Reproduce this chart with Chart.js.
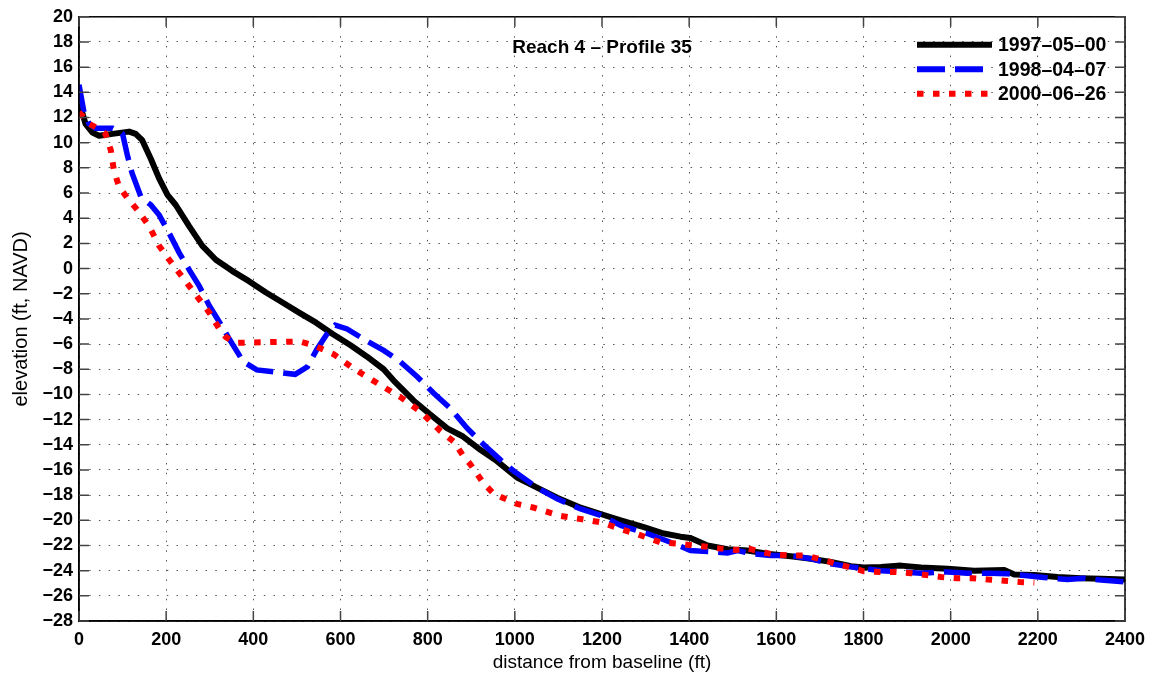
<!DOCTYPE html>
<html>
<head>
<meta charset="utf-8">
<title>Reach 4 – Profile 35</title>
<script src="https://cdn.jsdelivr.net/npm/chart.js@4.4.1/dist/chart.umd.min.js"></script>
<style>
  html, body { margin: 0; padding: 0; background: #fff; }
  #wrap { width: 1154px; height: 679px; position: relative; }
</style>
</head>
<body>
<div id="wrap"><canvas id="profil"></canvas></div>
<script>
// distance from baseline (ft) / elevation (ft, NAVD)
const dist1997 = [0, 4, 15, 31, 46, 77, 115, 130, 145, 165, 184, 203, 222, 253, 283, 314, 352, 390, 429, 467, 505, 544, 582, 623, 661, 699, 722, 768, 806, 845, 879, 921, 959, 1005, 1051, 1097, 1151, 1197, 1243, 1296, 1342, 1380, 1403, 1442, 1488, 1533, 1579, 1633, 1679, 1725, 1771, 1801, 1840, 1886, 1932, 1993, 2054, 2123, 2146, 2192, 2245, 2299, 2345, 2400];
const elev1997 = [13.0, 12.8, 11.5, 10.8, 10.55, 10.7, 10.88, 10.7, 10.2, 8.7, 7.15, 5.85, 5.05, 3.35, 1.8, 0.7, -0.2, -1.0, -1.9, -2.7, -3.5, -4.3, -5.2, -6.1, -7.0, -8.0, -8.9, -10.5, -11.6, -12.7, -13.3, -14.4, -15.3, -16.6, -17.4, -18.2, -19.0, -19.5, -20.0, -20.55, -21.05, -21.3, -21.4, -22.0, -22.3, -22.4, -22.65, -22.85, -23.05, -23.3, -23.65, -23.75, -23.7, -23.6, -23.75, -23.85, -24.0, -23.95, -24.3, -24.35, -24.5, -24.6, -24.65, -24.7];

const dist1998 = [0, 11, 23, 38, 77, 100, 111, 122, 142, 165, 184, 207, 230, 253, 276, 299, 322, 345, 377, 408, 446, 496, 524, 546, 569, 588, 615, 653, 699, 737, 776, 814, 852, 891, 929, 967, 998, 1051, 1097, 1151, 1197, 1243, 1304, 1365, 1403, 1449, 1488, 1511, 1541, 1587, 1633, 1679, 1725, 1771, 1840, 1886, 1932, 1993, 2039, 2092, 2130, 2176, 2214, 2268, 2306, 2345, 2400];
const elev1998 = [14.6, 12.5, 11.5, 11.15, 11.15, 10.7, 9.0, 7.55, 5.7, 5.05, 4.25, 2.8, 1.25, -0.1, -1.4, -2.95, -4.25, -5.6, -7.4, -8.05, -8.2, -8.4, -7.8, -6.4, -5.2, -4.5, -4.8, -5.6, -6.5, -7.4, -8.6, -9.9, -11.1, -12.7, -14.0, -15.2, -16.1, -17.4, -18.3, -19.1, -19.6, -20.4, -21.05, -21.85, -22.4, -22.5, -22.6, -22.4, -22.65, -22.8, -22.8, -23.05, -23.45, -23.7, -24.0, -24.1, -24.2, -24.1, -24.2, -24.2, -24.25, -24.4, -24.55, -24.7, -24.6, -24.75, -24.9];

const dist2000 = [0, 12, 23, 46, 61, 73, 80, 92, 111, 134, 161, 184, 207, 230, 253, 276, 299, 322, 337, 360, 431, 508, 538, 584, 630, 691, 737, 783, 829, 860, 882, 898, 929, 952, 1005, 1044, 1105, 1151, 1197, 1243, 1281, 1334, 1373, 1411, 1442, 1472, 1507, 1537, 1564, 1599, 1633, 1668, 1702, 1732, 1771, 1801, 1840, 1874, 1909, 1943, 1978, 2016, 2050, 2085, 2123, 2158, 2192];
const elev2000 = [12.4, 12.0, 11.5, 11.1, 10.7, 9.4, 7.8, 6.5, 5.6, 4.65, 3.35, 1.8, 0.7, -0.35, -1.4, -2.45, -3.5, -4.8, -5.45, -5.9, -5.85, -5.8, -6.1, -6.8, -7.95, -9.25, -10.2, -11.35, -12.9, -13.75, -14.9, -15.55, -17.1, -17.9, -18.7, -19.0, -19.65, -19.9, -20.15, -20.7, -21.1, -21.75, -21.85, -22.0, -22.1, -22.25, -22.35, -22.25, -22.5, -22.75, -22.8, -22.8, -23.1, -23.4, -23.75, -24.05, -24.1, -24.1, -24.2, -24.35, -24.5, -24.6, -24.6, -24.7, -24.8, -24.9, -24.95];

const seriesLabels = ['1997\u201305\u201300', '1998\u201304\u201307', '2000\u201306\u201326'];
const xTicks = [0, 200, 400, 600, 800, 1000, 1200, 1400, 1600, 1800, 2000, 2200, 2400];
const yTicks = [-28, -26, -24, -22, -20, -18, -16, -14, -12, -10, -8, -6, -4, -2, 0, 2, 4, 6, 8, 10, 12, 14, 16, 18, 20];
const plotTitle = 'Reach 4 \u2013 Profile 35';

(() => {
  const FONT = '"Liberation Sans", Arial, Helvetica, sans-serif';
  const pts = (xs, ys) => xs.map((x, i) => ({ x, y: ys[i] }));
  const minus = v => String(v).replace('-', '\u2212');

  // box round the axes, inward ticks, title and legend inside the plot
  const matlabFrame = {
    id: 'matlabFrame',
    afterDraw(chart) {
      const { ctx, chartArea: a, scales: { x, y } } = chart;
      ctx.save();
      ctx.strokeStyle = '#000';
      ctx.lineWidth = 1.5;
      ctx.setLineDash([]);
      ctx.strokeRect(a.left, a.top, a.right - a.left, a.bottom - a.top);

      ctx.strokeStyle = '#444';
      ctx.beginPath();
      x.ticks.forEach(t => {
        const px = x.getPixelForValue(t.value);
        ctx.moveTo(px, a.bottom); ctx.lineTo(px, a.bottom - 10);
        ctx.moveTo(px, a.top); ctx.lineTo(px, a.top + 10);
      });
      y.ticks.forEach(t => {
        const py = y.getPixelForValue(t.value);
        ctx.moveTo(a.left, py); ctx.lineTo(a.left + 10, py);
        ctx.moveTo(a.right, py); ctx.lineTo(a.right - 10, py);
      });
      ctx.stroke();

      ctx.fillStyle = '#000';
      ctx.font = 'bold 19px ' + FONT;
      ctx.textAlign = 'center';
      ctx.textBaseline = 'middle';
      ctx.fillText(plotTitle, (a.left + a.right) / 2, a.top + 31);

      // legend
      const lx = a.right - 208, ly = a.top + 28;
      chart.data.datasets.forEach((ds, i) => {
        const yy = ly + i * 24.5;
        ctx.strokeStyle = ds.borderColor;
        ctx.lineWidth = 6;
        ctx.setLineDash(ds.borderDash || []);
        ctx.beginPath();
        ctx.moveTo(lx, yy); ctx.lineTo(lx + 75, yy);
        ctx.stroke();
        ctx.setLineDash([]);
        ctx.fillStyle = '#000';
        ctx.font = 'bold 19.5px ' + FONT;
        ctx.textAlign = 'left';
        ctx.fillText(ds.label, lx + 81, yy + 1);
      });
      ctx.restore();
    }
  };

  const tickFont = { family: FONT, size: 18, weight: 'bold' };
  const gridOpts = { color: '#555', lineWidth: 1, drawTicks: false };
  const borderOpts = { display: true, color: '#000', width: 1.5, dash: [1.5, 8.2] };

  new Chart(document.getElementById('profil'), {
    type: 'line',
    data: {
      datasets: [
        {
          label: seriesLabels[0], data: pts(dist1997, elev1997),
          borderColor: '#000000', borderWidth: 6, borderJoinStyle: 'round', order: 3
        },
        {
          label: seriesLabels[1], data: pts(dist1998, elev1998),
          borderColor: '#0000ff', borderWidth: 5.5, borderDash: [28, 10], order: 2
        },
        {
          label: seriesLabels[2], data: pts(dist2000, elev2000),
          borderColor: '#ff0000', borderWidth: 6, borderDash: [6.5, 9.5], order: 1
        }
      ]
    },
    options: {
      responsive: true,
      maintainAspectRatio: false,
      animation: false,
      elements: { point: { radius: 0, hoverRadius: 0 }, line: { tension: 0, fill: false } },
      layout: { padding: { top: 12, right: 29, left: 0, bottom: 0 } },
      plugins: { legend: { display: false }, title: { display: false }, tooltip: { enabled: false } },
      scales: {
        x: {
          type: 'linear', min: 0, max: 2400,
          afterBuildTicks: s => { s.ticks = xTicks.map(v => ({ value: v })); },
          afterFit: s => { s.height = 58; },
          ticks: { font: tickFont, color: '#000', padding: 8, maxRotation: 0, autoSkip: false, callback: minus },
          grid: gridOpts,
          border: borderOpts,
          title: {
            display: true, text: 'distance from baseline (ft)', color: '#000',
            font: { family: FONT, size: 19 }, padding: { top: 0, bottom: 5 }
          }
        },
        y: {
          type: 'linear', min: -28, max: 20,
          afterBuildTicks: s => { s.ticks = yTicks.map(v => ({ value: v })); },
          afterFit: s => { s.width = 79; },
          ticks: { font: tickFont, color: '#000', padding: 6, autoSkip: false, callback: minus },
          grid: gridOpts,
          border: borderOpts,
          title: {
            display: true, text: 'elevation (ft, NAVD)', color: '#000',
            font: { family: FONT, size: 20 }, padding: { top: 9, bottom: 0 }
          }
        }
      }
    },
    plugins: [matlabFrame]
  });
})();
</script>
</body>
</html>
